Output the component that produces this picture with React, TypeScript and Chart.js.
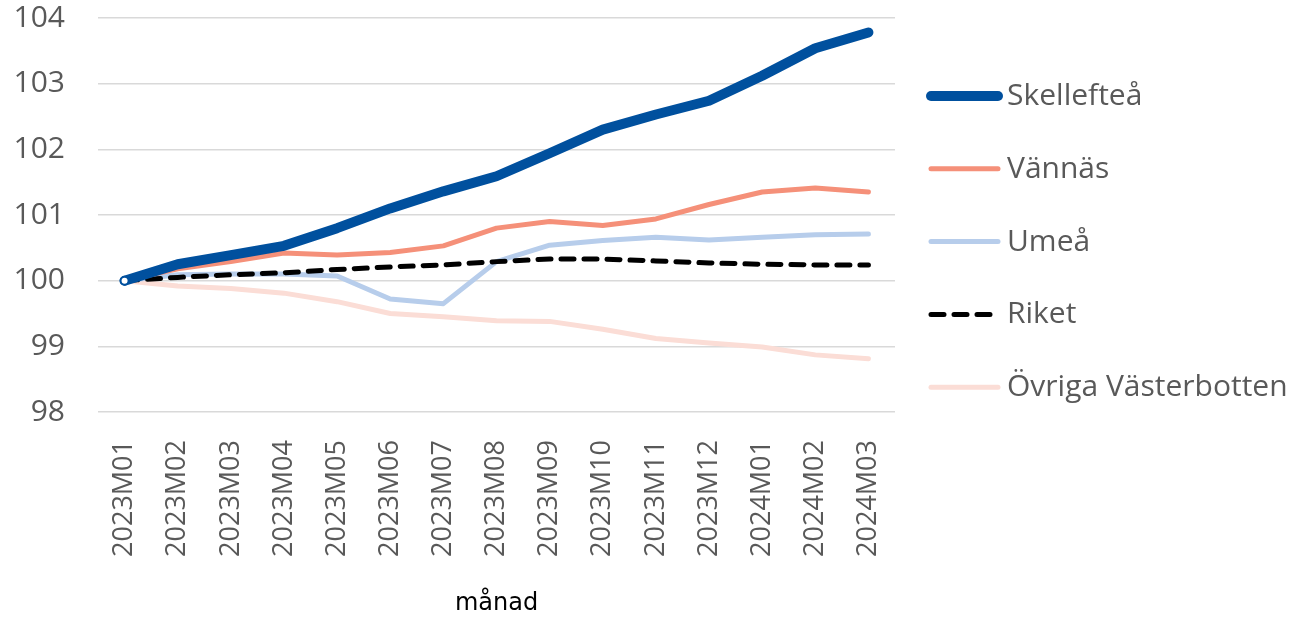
import React, { useEffect, useRef } from "react";
import { Chart, registerables } from "chart.js";

Chart.register(...registerables);

const categories = [
  "2023M01", "2023M02", "2023M03", "2023M04", "2023M05", "2023M06", "2023M07", "2023M08",
  "2023M09", "2023M10", "2023M11", "2023M12", "2024M01", "2024M02", "2024M03",
];

const seriesNames = ["Skellefteå", "Vännäs", "Umeå", "Riket", "Övriga Västerbotten"];

const skelleftea = [100, 100.25, 100.39, 100.53, 100.8, 101.1, 101.36, 101.59, 101.94, 102.3, 102.53, 102.74, 103.12, 103.54, 103.78];
const vannas = [100, 100.18, 100.29, 100.42, 100.39, 100.43, 100.53, 100.8, 100.9, 100.84, 100.94, 101.16, 101.35, 101.41, 101.35];
const umea = [100, 100.09, 100.1, 100.1, 100.07, 99.72, 99.65, 100.29, 100.54, 100.61, 100.66, 100.62, 100.66, 100.7, 100.71];
const riket = [100, 100.05, 100.09, 100.12, 100.17, 100.21, 100.24, 100.29, 100.33, 100.33, 100.3, 100.27, 100.25, 100.24, 100.24];
const ovriga = [100, 99.92, 99.88, 99.81, 99.68, 99.5, 99.45, 99.39, 99.38, 99.26, 99.12, 99.05, 98.99, 98.87, 98.81];

const yMin = 98;
const yMax = 104;
const yStep = 1;
const xTitle = "månad";

const legendPlugin = {
  id: "customLegend",
  afterDraw(chart: any) {
    const ctx = chart.ctx;
    const datasets = chart.data.datasets;
    ctx.save();
    datasets.forEach((ds: any, i: number) => {
      const y = 96 + i * 72.8;
      ctx.beginPath();
      ctx.setLineDash(ds.borderDash || []);
      ctx.lineCap = "round";
      ctx.lineWidth = ds.borderWidth;
      ctx.strokeStyle = ds.borderColor;
      ctx.moveTo(931, y);
      ctx.lineTo(998, y);
      ctx.stroke();
      ctx.setLineDash([]);
      ctx.font = "30px 'Open Sans'";
      ctx.fillStyle = "#595959";
      ctx.textBaseline = "alphabetic";
      ctx.textAlign = "left";
      ctx.fillText(ds.label, 1007, y + 9);
    });
    ctx.restore();
  },
};

export default function App() {
  const canvasRef = useRef<HTMLCanvasElement | null>(null);

  useEffect(() => {
    document.body.style.margin = "0";
    const canvas = canvasRef.current;
    if (!canvas) return;
    const base = {
      fill: false,
      tension: 0,
      borderCapStyle: "round",
      borderJoinStyle: "round",
      pointRadius: 0,
      pointHoverRadius: 0,
    };
    const chart = new Chart(canvas, {
      type: "line",
      data: {
        labels: categories,
        datasets: [
          {
            ...base,
            label: seriesNames[0],
            data: skelleftea,
            borderColor: "#00509E",
            backgroundColor: "#ffffff",
            borderWidth: 10,
            order: 0,
            pointRadius: skelleftea.map((_, i) => (i === 0 ? 4 : 0)),
            pointBorderColor: "#00509E",
            pointBackgroundColor: "#ffffff",
            pointBorderWidth: 2,
          },
          { ...base, label: seriesNames[1], data: vannas, borderColor: "#F59079", borderWidth: 5, order: 1 },
          { ...base, label: seriesNames[2], data: umea, borderColor: "#B7CDEB", borderWidth: 5, order: 3 },
          {
            ...base,
            label: seriesNames[3],
            data: riket,
            borderColor: "#000000",
            borderWidth: 5,
            borderDash: [13, 10],
            order: 2,
          },
          { ...base, label: seriesNames[4], data: ovriga, borderColor: "#FBDDD6", borderWidth: 5, order: 4 },
        ],
      } as any,
      options: {
        responsive: false,
        animation: false,
        devicePixelRatio: 1,
        layout: { padding: { left: 0, right: 400, top: 18, bottom: 0 } },
        plugins: {
          legend: { display: false },
          tooltip: { enabled: false },
          title: { display: false },
        },
        scales: {
          x: {
            type: "category",
            offset: true,
            grid: { display: false },
            border: { display: false },
            ticks: {
              autoSkip: false,
              minRotation: 90,
              maxRotation: 90,
              padding: 20,
              color: "#595959",
              font: { family: "'Open Sans'", size: 27 },
            },
            title: {
              display: true,
              text: xTitle,
              color: "#000000",
              font: { family: "'DejaVu Sans'", size: 24 },
              padding: { top: 0, bottom: 0 },
            },
            afterFit(scale: any) {
              scale.height = 206;
            },
          },
          y: {
            min: yMin,
            max: yMax,
            border: { display: false },
            grid: {
              color: "#D9D9D9",
              lineWidth: 1.5,
              drawTicks: true,
              tickLength: 33,
              tickColor: "rgba(0,0,0,0)",
            },
            ticks: {
              stepSize: yStep,
              padding: 0,
              color: "#595959",
              font: { family: "'Open Sans'", size: 30 },
            },
            afterFit(scale: any) {
              scale.width = 98;
            },
          },
        },
      } as any,
      plugins: [legendPlugin],
    });
    return () => chart.destroy();
  }, []);

  return (
    <div style={{ position: "fixed", left: 0, top: 0, width: 1295, height: 618, background: "#fff" }}>
      <canvas ref={canvasRef} width={1295} height={618} />
    </div>
  );
}
